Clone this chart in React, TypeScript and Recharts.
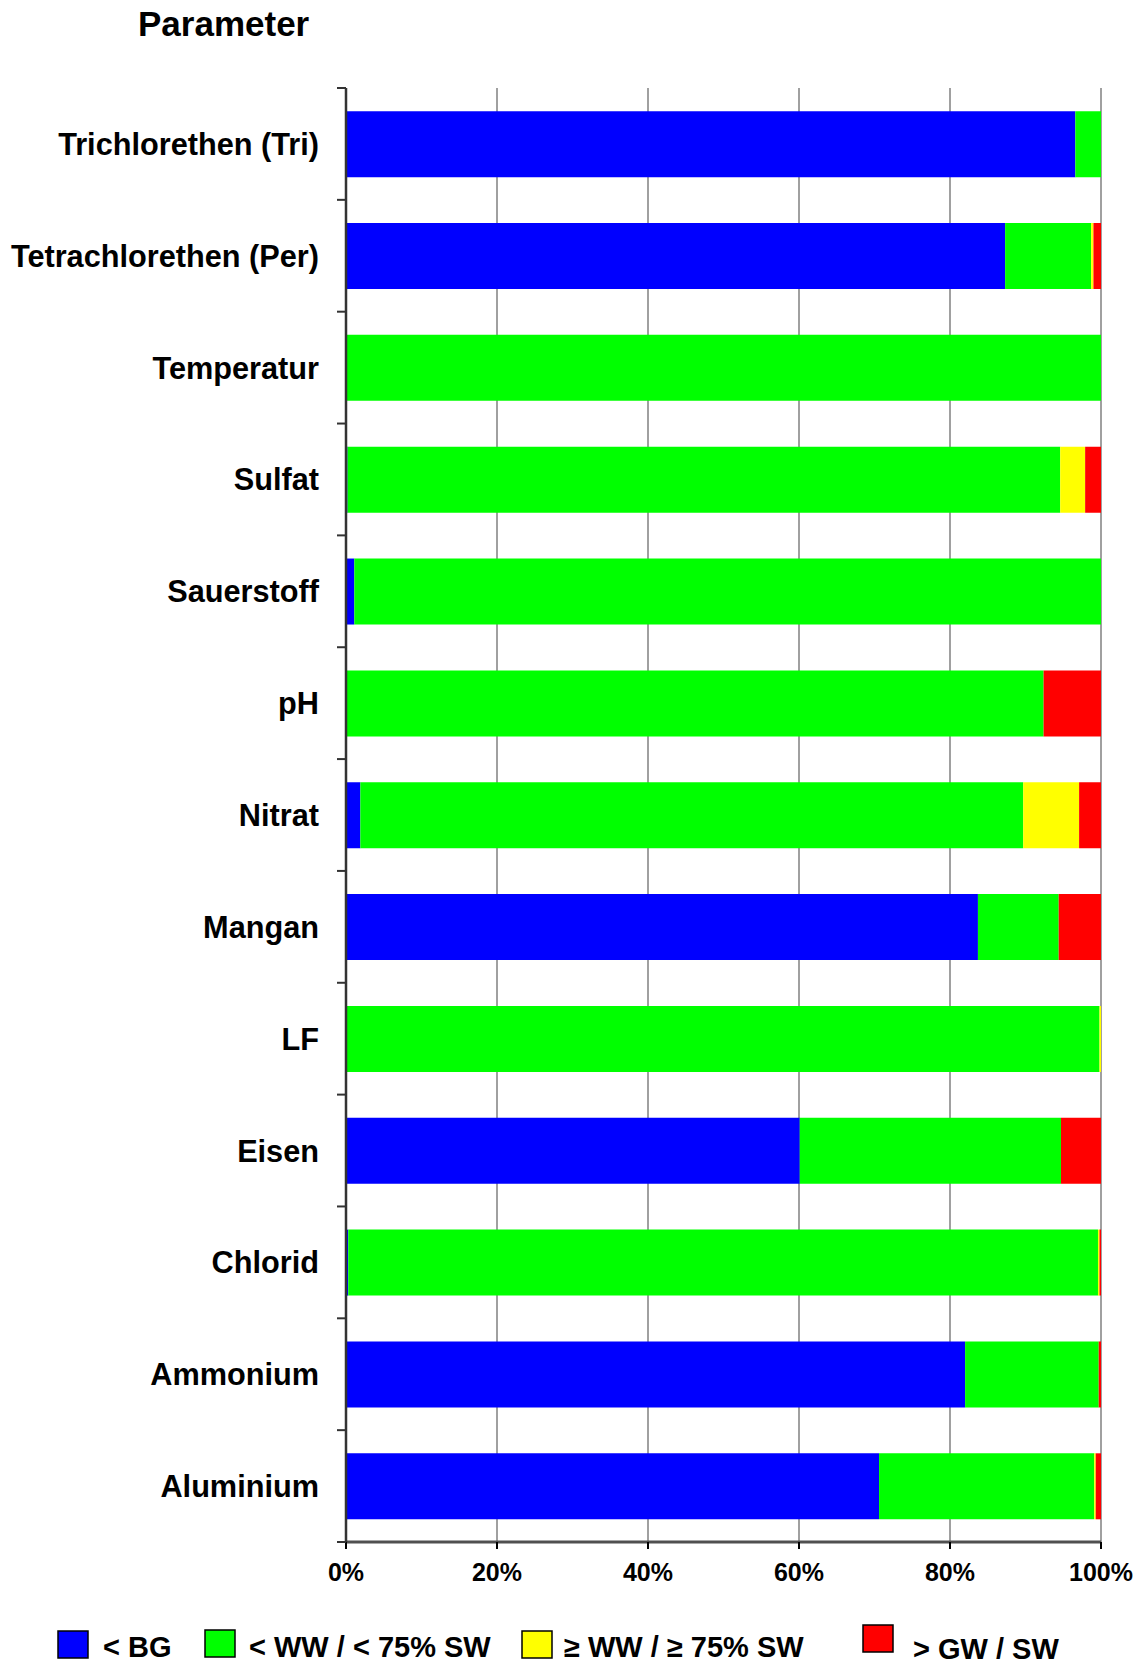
import React from 'react';
import { BarChart, Bar, XAxis, YAxis, CartesianGrid } from 'recharts';

const categories = [
  'Trichlorethen (Tri)',
  'Tetrachlorethen (Per)',
  'Temperatur',
  'Sulfat',
  'Sauerstoff',
  'pH',
  'Nitrat',
  'Mangan',
  'LF',
  'Eisen',
  'Chlorid',
  'Ammonium',
  'Aluminium',
];
const belowBG = [96.6, 87.3, 0, 0.2, 1.1, 0, 1.9, 83.7, 0, 60.1, 0.3, 82.0, 70.6];
const belowWW = [3.4, 11.4, 100, 94.4, 98.9, 92.4, 87.8, 10.7, 99.8, 34.6, 99.3, 17.7, 28.5];
const aboveWW = [0, 0.3, 0, 3.3, 0, 0, 7.4, 0, 0.2, 0, 0.2, 0, 0.2];
const aboveGW = [0, 1.0, 0, 2.1, 0, 7.6, 2.9, 5.6, 0, 5.3, 0.2, 0.3, 0.7];

const xTicks = [0, 20, 40, 60, 80, 100];
const seriesNames = ['< BG', '< WW / < 75% SW', '\u2265 WW / \u2265 75% SW', '> GW / SW'];
const seriesColors = ['#0000FF', '#00FF00', '#FFFF00', '#FF0000'];
const seriesKeys = ['bg', 'ww', 'geww', 'gw'];

const data = categories.map((name, i) => ({
  name,
  bg: belowBG[i],
  ww: belowWW[i],
  geww: aboveWW[i],
  gw: aboveGW[i],
}));

const FONT = '"Liberation Sans", Arial, Helvetica, sans-serif';
const W = 1141;
const H = 1664;
const MT = 88;
const XH = 122;
const PLOT_LEFT = 346;
const BAND = (H - MT - XH) / categories.length;

const YTick = (props: any) => {
  const { y, index, payload } = props;
  const top = y - BAND / 2;
  const bottom = y + BAND / 2;
  return (
    <g>
      <line x1={PLOT_LEFT - 9} x2={PLOT_LEFT} y1={top} y2={top} stroke="#333" strokeWidth={2} />
      {index === categories.length - 1 && (
        <line x1={PLOT_LEFT - 9} x2={PLOT_LEFT} y1={bottom} y2={bottom} stroke="#333" strokeWidth={2} />
      )}
      <text
        x={319}
        y={y + 11}
        textAnchor="end"
        fontFamily={FONT}
        fontWeight="bold"
        fontSize={30.7}
        fill="#000"
      >
        {payload.value}
      </text>
    </g>
  );
};

const legendBoxes = [
  { x: 58, y: 1631, tx: 103, ty: 1657 },
  { x: 205, y: 1630, tx: 249, ty: 1657 },
  { x: 522, y: 1631, tx: 564, ty: 1657 },
  { x: 863, y: 1625, tx: 913, ty: 1659 },
];

export default function App() {
  return (
    <div style={{ position: 'absolute', left: 0, top: 0, width: W, height: H, background: '#fff' }}>
      <BarChart
        width={W}
        height={H}
        data={data}
        layout="vertical"
        margin={{ top: MT, right: 40, bottom: 0, left: 0 }}
        barCategoryGap="20.7%"
      >
        <CartesianGrid horizontal={false} vertical={true} stroke="#808080" strokeWidth={1.5} />
        <XAxis
          type="number"
          domain={[0, 100]}
          ticks={xTicks}
          allowDataOverflow
          tickFormatter={(v: number) => `${v}%`}
          axisLine={{ stroke: '#505050', strokeWidth: 3 }}
          tickLine={{ stroke: '#000', strokeWidth: 2 }}
          tickSize={7}
          tickMargin={14}
          tick={{ fontFamily: FONT, fontWeight: 'bold', fontSize: 25, fill: '#000' }}
          height={XH}
        />
        <XAxis
          xAxisId="top"
          orientation="top"
          type="number"
          domain={[0, 100]}
          tick={false}
          tickLine={false}
          height={0}
          axisLine={{ stroke: '#808080', strokeWidth: 2.5 }}
        />
        <YAxis
          type="category"
          dataKey="name"
          width={PLOT_LEFT}
          axisLine={{ stroke: '#333', strokeWidth: 2.5 }}
          tickLine={false}
          interval={0}
          tick={<YTick />}
        />
        <YAxis
          yAxisId="right"
          orientation="right"
          type="category"
          dataKey="name"
          width={0}
          tick={false}
          tickLine={false}
          axisLine={{ stroke: '#808080', strokeWidth: 3.5 }}
        />
        {seriesKeys.map((k, i) => (
          <Bar
            key={k}
            dataKey={k}
            name={seriesNames[i]}
            stackId="a"
            fill={seriesColors[i]}
            isAnimationActive={false}
          />
        ))}
      </BarChart>
      <svg
        width={W}
        height={H}
        style={{ position: 'absolute', left: 0, top: 0, pointerEvents: 'none' }}
      >
        <text x={138} y={36} fontFamily={FONT} fontWeight="bold" fontSize={35} fill="#000">
          Parameter
        </text>
        {seriesNames.map((n, i) => (
          <g key={n}>
            <rect
              x={legendBoxes[i].x}
              y={legendBoxes[i].y}
              width={30}
              height={27}
              fill={seriesColors[i]}
              stroke="#000"
              strokeWidth={1.5}
            />
            <text
              x={legendBoxes[i].tx}
              y={legendBoxes[i].ty}
              fontFamily={FONT}
              fontWeight="bold"
              fontSize={29}
              fill="#000"
            >
              {n}
            </text>
          </g>
        ))}
      </svg>
    </div>
  );
}
